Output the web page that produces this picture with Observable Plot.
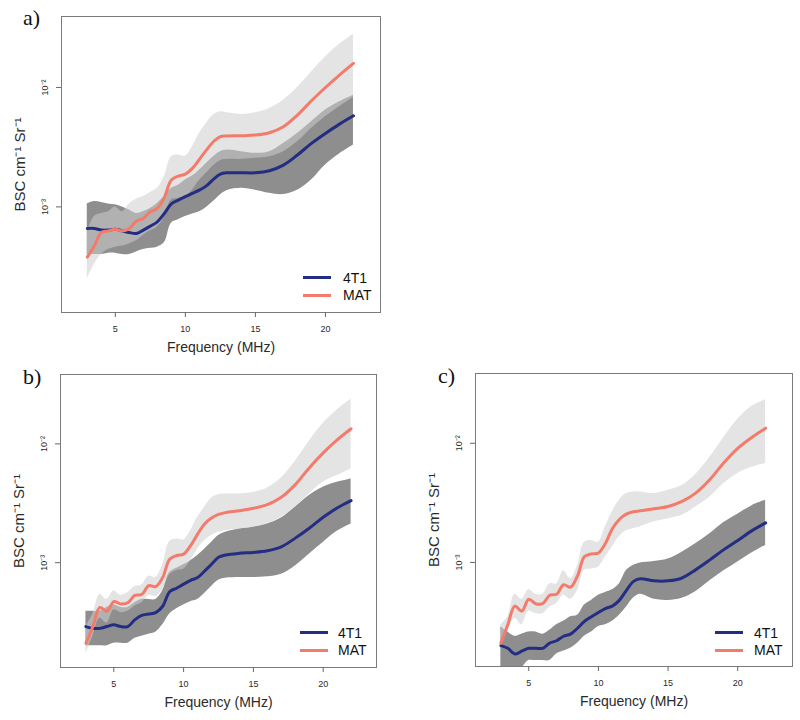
<!DOCTYPE html>
<html><head><meta charset="utf-8">
<script src="https://cdn.jsdelivr.net/npm/d3@7"></script>
<script src="https://cdn.jsdelivr.net/npm/@observablehq/plot@0.6"></script>
<style>
body{margin:0;background:#fff;}
#wrap{position:relative;width:800px;height:720px;overflow:hidden;font-family:"Liberation Sans",Arial,sans-serif;}
.panel{position:absolute;}
.tag{position:absolute;font-family:"Liberation Serif","Times New Roman",serif;font-size:22px;line-height:1;color:#111;}
.lg-line{position:absolute;height:3px;width:28px;}
.lg-text{position:absolute;font-size:14px;line-height:16px;color:#111;}
g[aria-label="y-axis label"]{font-size:15px;}
g[aria-label="x-axis label"]{font-size:14px;}
</style></head>
<body><div id="wrap"></div>
<script>
// frequency samples (MHz)
const freq = [3,3.5,4,4.5,5,5.5,6,6.5,7,7.5,8,8.5,9,9.5,10,10.5,11,11.5,12,12.5,13,14,15,16,17,18,19,20,21,22];
// BSC values in units of 1e-3 cm^-1 Sr^-1
const unit = 1e-3;
// panel a)
const a4T1   = [0.66,0.66,0.64,0.64,0.65,0.63,0.61,0.60,0.64,0.69,0.75,0.88,1.06,1.14,1.22,1.30,1.38,1.50,1.70,1.88,1.93,1.93,1.93,2.01,2.24,2.72,3.40,4.12,4.93,5.79];
const a4T1Hi = [1.06,1.11,1.09,1.06,1.04,1.00,0.94,0.88,0.91,0.97,1.07,1.22,1.43,1.52,1.68,1.81,2.03,2.31,2.63,2.90,2.99,2.90,2.81,2.90,3.40,4.12,5.16,6.46,7.58,8.62];
const a4T1Lo = [0.40,0.40,0.40,0.41,0.41,0.40,0.40,0.42,0.44,0.45,0.46,0.50,0.73,0.78,0.83,0.87,0.91,0.99,1.11,1.26,1.37,1.43,1.38,1.30,1.27,1.38,1.68,2.24,2.77,3.29];
const aMAT   = [0.38,0.47,0.61,0.63,0.65,0.63,0.66,0.76,0.80,0.91,0.97,1.20,1.68,1.81,1.88,2.10,2.50,2.99,3.51,3.87,3.92,3.94,3.99,4.18,4.69,5.87,7.73,9.99,12.7,15.9];
const aMATHi = [0.60,0.83,0.88,0.91,1.00,0.91,1.06,1.16,1.22,1.32,1.43,1.79,2.63,2.72,2.66,3.19,4.12,5.00,5.87,6.26,6.14,5.94,6.14,6.67,7.83,9.99,13.5,18.0,23.0,27.9];
const aMATLo = [0.25,0.33,0.40,0.44,0.46,0.47,0.49,0.52,0.58,0.63,0.68,0.82,1.14,1.18,1.22,1.38,1.66,1.91,2.21,2.44,2.50,2.50,2.55,2.63,2.90,3.51,4.54,5.68,6.89,8.24];
// panel b)
const b4T1   = [0.29,0.28,0.28,0.29,0.30,0.29,0.29,0.33,0.36,0.37,0.38,0.43,0.57,0.61,0.66,0.71,0.75,0.85,0.97,1.11,1.16,1.20,1.22,1.26,1.36,1.61,1.95,2.41,2.89,3.33];
const b4T1Hi = [0.39,0.39,0.39,0.42,0.44,0.42,0.42,0.46,0.49,0.49,0.49,0.58,0.83,0.90,0.96,1.04,1.15,1.30,1.48,1.69,1.80,1.92,1.99,2.12,2.38,2.93,3.67,4.31,4.75,5.07];
const b4T1Lo = [0.20,0.20,0.20,0.20,0.21,0.21,0.21,0.23,0.24,0.25,0.26,0.30,0.37,0.41,0.44,0.47,0.49,0.55,0.63,0.71,0.74,0.75,0.75,0.76,0.80,0.94,1.18,1.48,1.84,2.12];
const bMAT   = [0.21,0.29,0.42,0.39,0.47,0.45,0.46,0.53,0.54,0.64,0.63,0.75,1.07,1.15,1.18,1.39,1.74,2.12,2.38,2.55,2.64,2.74,2.87,3.08,3.55,4.54,6.28,8.40,10.8,13.4];
const bMATHi = [0.29,0.37,0.54,0.49,0.58,0.53,0.56,0.63,0.65,0.77,0.75,0.96,1.51,1.58,1.55,1.86,2.41,2.93,3.51,3.74,3.79,3.79,3.91,4.26,5.17,7.14,10.5,14.9,19.3,23.9];
const bMATLo = [0.17,0.24,0.34,0.31,0.40,0.38,0.39,0.43,0.46,0.53,0.52,0.59,0.79,0.86,0.88,1.04,1.30,1.53,1.69,1.80,1.86,1.92,1.99,2.12,2.41,2.93,3.79,4.75,5.41,6.16];
// panel c)
const c4T1   = [0.20,0.19,0.17,0.18,0.19,0.19,0.19,0.21,0.22,0.24,0.25,0.28,0.32,0.35,0.38,0.41,0.43,0.48,0.58,0.69,0.73,0.70,0.70,0.74,0.87,1.05,1.28,1.53,1.84,2.15];
const c4T1Hi = [0.29,0.26,0.24,0.25,0.26,0.26,0.25,0.27,0.30,0.32,0.35,0.36,0.44,0.48,0.53,0.56,0.59,0.66,0.85,0.94,0.99,1.02,1.07,1.22,1.44,1.74,2.16,2.54,2.98,3.33];
const c4T1Lo = [0.12,0.12,0.12,0.13,0.15,0.15,0.15,0.15,0.17,0.18,0.19,0.21,0.24,0.26,0.29,0.30,0.32,0.36,0.42,0.50,0.54,0.49,0.48,0.50,0.57,0.70,0.85,1.01,1.20,1.39];
const cMAT   = [0.21,0.30,0.43,0.39,0.49,0.45,0.45,0.53,0.54,0.65,0.62,0.77,1.12,1.18,1.20,1.44,1.92,2.29,2.54,2.66,2.71,2.82,2.95,3.25,3.84,4.97,6.87,9.08,11.2,13.4];
const cMATHi = [0.30,0.35,0.54,0.49,0.59,0.54,0.54,0.66,0.66,0.85,0.73,0.94,1.48,1.53,1.48,1.99,2.66,3.33,3.79,3.91,3.91,3.79,4.04,4.43,5.51,7.62,11.2,15.9,20.4,23.2];
const cMATLo = [0.21,0.27,0.34,0.30,0.39,0.37,0.37,0.42,0.45,0.53,0.49,0.58,0.86,0.88,0.91,1.11,1.35,1.64,1.84,1.92,1.99,2.19,2.33,2.49,2.93,3.55,4.60,5.59,6.28,6.78];

const seriesNames = ["4T1", "MAT"];
const xTicks = [5, 10, 15, 20];
const yTicks = [1e-3, 1e-2];
const yTickLabels = {"0.001": "10\u207B\u00B3", "0.01": "10\u207B\u00B2"};
const xLabel = "Frequency (MHz)";
const yLabel = "BSC cm\u207B\u00B9 Sr\u207B\u00B9";
const navy = "#232d82", salmon = "#f47b6b";

const panels = [
  {id: "a", tag: "a)", left: 0, top: 0, m4: a4T1, hi4: a4T1Hi, lo4: a4T1Lo, mM: aMAT, hiM: aMATHi, loM: aMATLo,
   margin: [16, 20, 48, 61], xd: [1.16, 23.93], yd: [1.306e-4, 3.926e-2],
   tagPos: [23, 6.5], lg: [303, 277.7, 343]},
  {id: "b", tag: "b)", left: 0, top: 360, m4: b4T1, hi4: b4T1Hi, lo4: b4T1Lo, mM: bMAT, hiM: bMATHi, loM: bMATLo,
   margin: [14, 24, 53, 60], xd: [1.18, 23.82], yd: [1.312e-4, 3.837e-2],
   tagPos: [23, 366], lg: [300, 632.7, 338]},
  {id: "c", tag: "c)", left: 400, top: 360, m4: c4T1, hi4: c4T1Hi, lo4: c4T1Lo, mM: cMAT, hiM: cMATHi, loM: cMATLo,
   margin: [13, 8, 54, 75], xd: [1.18, 23.93], yd: [1.337e-4, 3.855e-2],
   tagPos: [438, 365], lg: [715, 632.7, 754]}
];

const wrap = document.getElementById("wrap");
const curve = "catmull-rom";

for (const p of panels) {
  const rows = freq.map((f, i) => ({
    f, m4: p.m4[i] * unit, hi4: p.hi4[i] * unit, lo4: p.lo4[i] * unit,
    mM: p.mM[i] * unit, hiM: p.hiM[i] * unit, loM: p.loM[i] * unit
  }));
  const [mt, mr, mb, ml] = p.margin;
  const svg = Plot.plot({
    width: 400, height: 360,
    marginTop: mt, marginRight: mr, marginBottom: mb, marginLeft: ml,
    style: {fontFamily: "'Liberation Sans', Arial, sans-serif", background: "none", color: "#2a2a2a", overflow: "visible"},
    x: {type: "linear", domain: p.xd},
    y: {type: "log", domain: p.yd},
    marks: [
      Plot.areaY(rows, {x: "f", y1: "lo4", y2: "hi4", curve, fill: "#8e8e8e", clip: true}),
      Plot.areaY(rows, {x: "f", y1: "loM", y2: "hiM", curve, fill: "#cdcdcd", fillOpacity: 0.55, clip: true}),
      Plot.lineY(rows, {x: "f", y: "m4", curve, stroke: navy, strokeWidth: 3, clip: true}),
      Plot.lineY(rows, {x: "f", y: "mM", curve, stroke: salmon, strokeWidth: 3, clip: true}),
      Plot.frame({stroke: "#7a7a7a", strokeWidth: 1}),
      Plot.axisX({ticks: xTicks, tickSize: 5, tickPadding: 8, fontSize: 9, stroke: "#666",
        label: xLabel, labelAnchor: "center", labelArrow: "none", labelOffset: 39}),
      Plot.axisY({ticks: yTicks, tickFormat: d => yTickLabels[String(d)], tickSize: 5, tickPadding: 9, tickRotate: -90,
        fontSize: 9, stroke: "#666", label: yLabel, labelAnchor: "center", labelArrow: "none", labelOffset: 47})
    ]
  });
  // hatching patterns for the error bands
  const defs = d3.select(svg).insert("defs", ":first-child");
  const pd = defs.append("pattern").attr("id", "hd-" + p.id).attr("width", 3).attr("height", 10).attr("patternUnits", "userSpaceOnUse");
  pd.append("rect").attr("width", 3).attr("height", 10).attr("fill", "#9b9b9b");
  pd.append("rect").attr("width", 1).attr("height", 10).attr("fill", "#525252");
  const pl = defs.append("pattern").attr("id", "hl-" + p.id).attr("width", 3).attr("height", 10).attr("patternUnits", "userSpaceOnUse");
  pl.append("rect").attr("width", 3).attr("height", 10).attr("fill", "#cdcdcd");
  pl.append("rect").attr("width", 1).attr("height", 10).attr("fill", "#a8a8a8");
  const areas = d3.select(svg).selectAll('g[aria-label="area"]').nodes();
  if (areas[0]) areas[0].setAttribute("fill", `url(#hd-${p.id})`);
  if (areas[1]) areas[1].setAttribute("fill", `url(#hl-${p.id})`);

  svg.classList.add("panel");
  svg.style.position = "absolute";
  svg.style.left = p.left + "px";
  svg.style.top = p.top + "px";
  wrap.appendChild(svg);

  const tag = document.createElement("div");
  tag.className = "tag";
  tag.textContent = p.tag;
  tag.style.left = p.tagPos[0] + "px";
  tag.style.top = p.tagPos[1] + "px";
  wrap.appendChild(tag);

  const [lx, ly, tx] = p.lg;
  [navy, salmon].forEach((c, k) => {
    const y = ly + k * 17.3;
    const line = document.createElement("div");
    line.className = "lg-line";
    line.style.background = c;
    line.style.left = lx + "px";
    line.style.top = (y - 1.5) + "px";
    wrap.appendChild(line);
    const t = document.createElement("div");
    t.className = "lg-text";
    t.textContent = seriesNames[k];
    t.style.left = tx + "px";
    t.style.top = (y - 8) + "px";
    wrap.appendChild(t);
  });
}
</script>
</body></html>
